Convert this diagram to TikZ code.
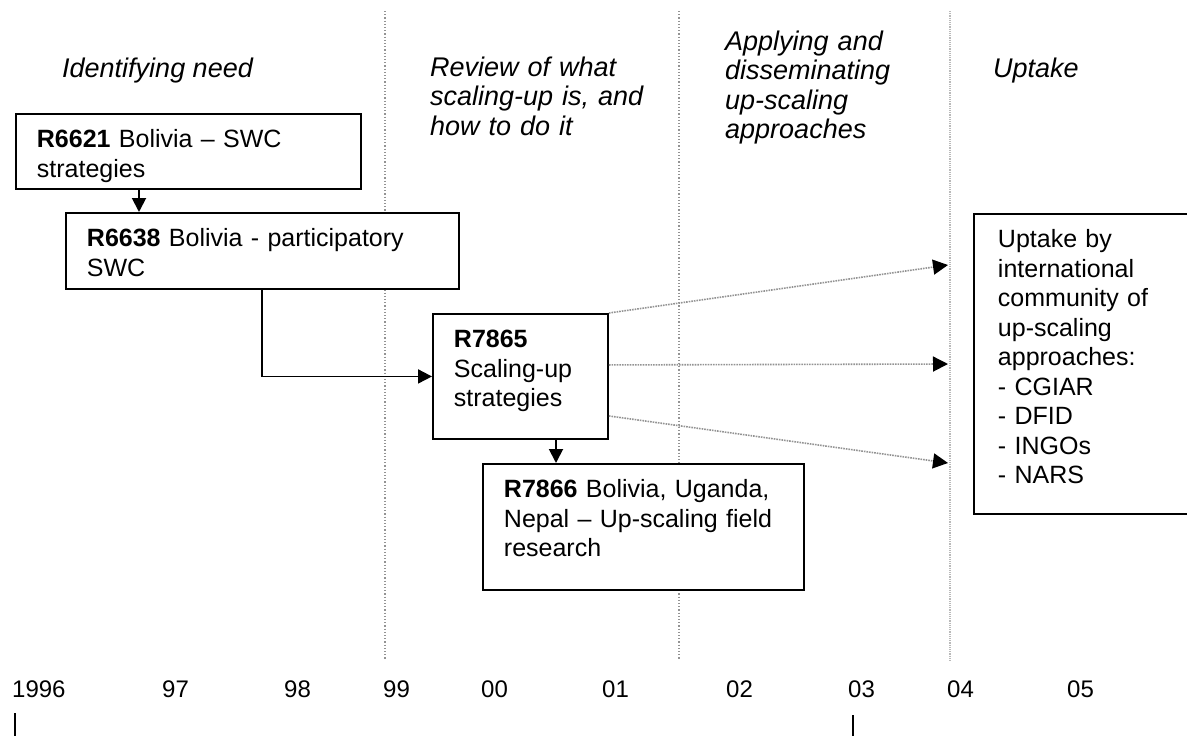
\documentclass[tikz,border=0pt]{standalone}
\usepackage{fontspec}
\setmainfont{Liberation Sans}
\usetikzlibrary{arrows.meta}

\begin{document}
\begin{tikzpicture}[x=1pt,y=-1pt,
  phase/.style={anchor=base west, inner sep=0pt, align=left,
    font=\fontsize{27}{29.5}\selectfont\itshape},
  project/.style={draw, fill=white, line width=1.9pt, anchor=north west,
    align=left, inner xsep=21pt, inner ysep=0pt, text height=34pt,
    font=\fontsize{25}{29.5}\selectfont},
  year/.style={anchor=base west, inner sep=0pt, font=\fontsize{24}{28}\selectfont},
  link/.style={line width=1.9pt, -{Triangle[length=14pt,width=14pt]}},
  spread/.style={gray!85, densely dotted, line width=1.6pt,
    -{Triangle[length=15pt,width=15pt,color=black]}},
  divider/.style={gray!85, dotted, line width=1.2pt}]
\useasboundingbox (0,0) rectangle (1187,736);

% period dividers
\draw[divider] (385,11) -- (385,660);
\draw[divider] (679,11) -- (679,660);
\draw[divider, gray!55, densely dotted, line width=1.6pt] (950,11) -- (950,662);

% phase headings
\node[phase] (need) at (62,77) {Identifying need};
\node[phase, text width=240pt] (review) at (430,76)
  {Review of what\\ scaling-up is, and\\ how to do it};
\node[phase, text width=215pt] (applying) at (725,50)
  {Applying and\\ disseminating\\ up-scaling\\ approaches};
\node[phase] (uptakehead) at (993,77) {Uptake};

% projects (manual placement)
\node[project, text width=303pt, text depth=41pt] (r6621) at (15,113)
  {\textbf{R6621} Bolivia – SWC\\ strategies};
\node[project, text width=351pt, text depth=42pt] (r6638) at (65,212)
  {\textbf{R6638} Bolivia - participatory\\ SWC};
\node[project, text width=133pt, text depth=91pt] (r7865) at (432,313)
  {\textbf{R7865}\\ Scaling-up\\ strategies};
\node[project, text width=279pt, text depth=92pt] (r7866) at (482,463)
  {\textbf{R7866} Bolivia, Uganda,\\ Nepal – Up-scaling field\\ research};
\node[project, inner xsep=24pt, text width=184pt, text depth=266pt] (uptake) at (973,213)
  {Uptake by\\ international\\ community of\\ up-scaling\\ approaches:\\
   - CGIAR\\ - DFID\\ - INGOs\\ - NARS};

% links between projects
\coordinate (a1) at ([xshift=124pt]r6621.south west);
\coordinate (a2) at ([xshift=197pt]r6638.south west);
\coordinate (a3) at ([xshift=124pt]r7865.south west);
\draw[link] (a1) -- (a1 |- r6638.north);
\draw[link] (a2) |- (r7865.west);
\draw[link] (a3) -- (a3 |- r7866.north);

% spreading towards uptake
\coordinate (t1) at (948,265);
\coordinate (t2) at (948,364);
\coordinate (t3) at (948,463);
\draw[spread] (r7865.north east) -- (t1);
\draw[spread] ([yshift=11.5pt]r7865.east) -- (t2);
\draw[spread] ([yshift=-39.5pt]r7865.east) -- (t3);

% time axis
\foreach \yr/\xpos in {1996/12, 97/162, 98/284, 99/383, 00/481,
                       01/602, 02/726, 03/848, 04/947, 05/1067}
  \node[year] (y\yr) at (\xpos,697) {\yr};
\draw[line width=1.5pt] (15,713) -- (15,736);
\draw[line width=1.5pt] (853,715) -- (853,736);
\end{tikzpicture}
\end{document}
